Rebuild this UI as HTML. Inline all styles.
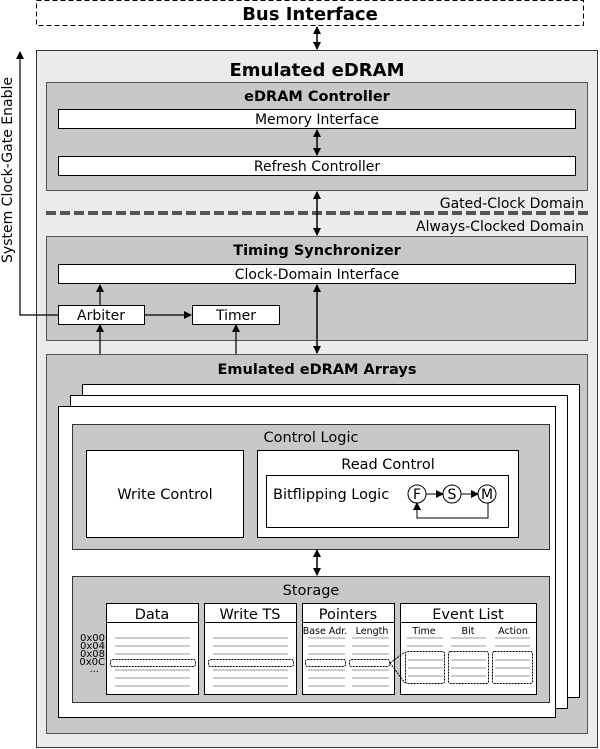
<!DOCTYPE html>
<html><head><meta charset="utf-8"><style>
html,body{margin:0;padding:0;background:#fff}
svg{display:block}
text{font-family:"DejaVu Sans","Liberation Sans",sans-serif;fill:#000}
</style></head><body>
<svg width="600" height="749" viewBox="0 0 600 749" xmlns="http://www.w3.org/2000/svg">
<defs>
<marker id="a" markerWidth="8" markerHeight="8" refX="7" refY="4" orient="auto-start-reverse" markerUnits="userSpaceOnUse"><path d="M0,0 L8,4 L0,8 z" fill="#000"/></marker>
</defs>
<rect x="36.5" y="0.5" width="547" height="25" fill="#fff" stroke="#000" stroke-dasharray="5,3"/>
<text x="310" y="20" font-size="18" font-weight="bold" text-anchor="middle">Bus Interface</text>
<line x1="317" y1="27" x2="317" y2="49" stroke="#000" stroke-width="1.5" marker-start="url(#a)" marker-end="url(#a)"/>
<rect x="36.5" y="50.5" width="561" height="697" fill="#ebebeb" stroke="#333"/>
<text x="317" y="76" font-size="18" font-weight="bold" text-anchor="middle">Emulated eDRAM</text>
<rect x="46.5" y="82.5" width="541" height="108" fill="#c8c8c8" stroke="#555"/>
<text x="317" y="101" font-size="14.5" font-weight="bold" text-anchor="middle">eDRAM Controller</text>
<rect x="58.5" y="109.5" width="517" height="19" fill="#fff" stroke="#000"/>
<text x="317" y="124" font-size="14" text-anchor="middle">Memory Interface</text>
<line x1="317" y1="130" x2="317" y2="155" stroke="#000" stroke-width="1.5" marker-start="url(#a)" marker-end="url(#a)"/>
<rect x="58.5" y="156.5" width="517" height="19" fill="#fff" stroke="#000"/>
<text x="317" y="171" font-size="14" text-anchor="middle">Refresh Controller</text>
<text x="584" y="208" font-size="14" text-anchor="end">Gated-Clock Domain</text>
<line x1="46" y1="213" x2="588" y2="213" stroke="#555" stroke-width="4" stroke-dasharray="10,4"/>
<text x="584" y="231" font-size="14" text-anchor="end">Always-Clocked Domain</text>
<line x1="317" y1="192" x2="317" y2="235" stroke="#000" stroke-width="1.5" marker-start="url(#a)" marker-end="url(#a)"/>
<rect x="46.5" y="236.5" width="541" height="104" fill="#c8c8c8" stroke="#555"/>
<text x="317" y="255" font-size="14.5" font-weight="bold" text-anchor="middle">Timing Synchronizer</text>
<rect x="58.5" y="264.5" width="517" height="19" fill="#fff" stroke="#000"/>
<text x="317" y="279" font-size="14" text-anchor="middle">Clock-Domain Interface</text>
<rect x="58.5" y="305.5" width="86" height="19" fill="#fff" stroke="#000"/>
<text x="101" y="320" font-size="14" text-anchor="middle">Arbiter</text>
<rect x="192.5" y="305.5" width="87" height="19" fill="#fff" stroke="#000"/>
<text x="236" y="320" font-size="14" text-anchor="middle">Timer</text>
<line x1="145" y1="315" x2="191" y2="315" stroke="#000" stroke-width="1.2" marker-end="url(#a)"/>
<line x1="100" y1="305" x2="100" y2="285" stroke="#000" stroke-width="1.2" marker-end="url(#a)"/>
<line x1="317" y1="285" x2="317" y2="353" stroke="#000" stroke-width="1.5" marker-start="url(#a)" marker-end="url(#a)"/>
<polyline points="58,315 20,315 20,52" fill="none" stroke="#000" stroke-width="1.2" marker-end="url(#a)"/>
<text transform="translate(12,170) rotate(-90)" font-size="14" text-anchor="middle">System Clock-Gate Enable</text>
<rect x="46.5" y="354.5" width="541" height="379" fill="#c8c8c8" stroke="#555"/>
<text x="317" y="374" font-size="14.5" font-weight="bold" text-anchor="middle">Emulated eDRAM Arrays</text>
<line x1="100" y1="354" x2="100" y2="325" stroke="#000" stroke-width="1.2" marker-end="url(#a)"/>
<line x1="236" y1="354" x2="236" y2="325" stroke="#000" stroke-width="1.2" marker-end="url(#a)"/>
<rect x="82.5" y="384.5" width="497" height="313" fill="#fff" stroke="#000"/>
<rect x="70.5" y="395.5" width="497" height="313" fill="#fff" stroke="#000"/>
<rect x="58.5" y="406.5" width="497" height="311" fill="#fff" stroke="#000"/>
<rect x="72.5" y="424.5" width="477" height="125" fill="#c8c8c8" stroke="#333"/>
<text x="311" y="442" font-size="14.5" text-anchor="middle">Control Logic</text>
<rect x="86.5" y="450.5" width="157" height="87" fill="#fff" stroke="#000"/>
<text x="165" y="499" font-size="14.5" text-anchor="middle">Write Control</text>
<rect x="257.5" y="450.5" width="261" height="87" fill="#fff" stroke="#000"/>
<text x="388" y="469" font-size="14.5" text-anchor="middle">Read Control</text>
<rect x="266.5" y="475.5" width="242" height="52" fill="#fff" stroke="#000"/>
<text x="273" y="499" font-size="14.5">Bitflipping Logic</text>
<g font-size="14" text-anchor="middle">
<circle cx="417" cy="494" r="9" fill="#fff" stroke="#000"/><text x="417" y="499">F</text>
<circle cx="452" cy="494" r="9" fill="#fff" stroke="#000"/><text x="452" y="499">S</text>
<circle cx="487" cy="494" r="9" fill="#fff" stroke="#000"/><text x="487" y="499">M</text>
</g>
<line x1="426" y1="494" x2="443" y2="494" stroke="#000" marker-end="url(#a)"/>
<line x1="461" y1="494" x2="478" y2="494" stroke="#000" marker-end="url(#a)"/>
<polyline points="488,503 488,518 417,518 417,503" fill="none" stroke="#000" marker-end="url(#a)"/>
<line x1="317" y1="550" x2="317" y2="575" stroke="#000" stroke-width="1.5" marker-start="url(#a)" marker-end="url(#a)"/>
<rect x="72.5" y="576.5" width="477" height="126" fill="#c8c8c8" stroke="#333"/>
<text x="311" y="595" font-size="14.5" text-anchor="middle">Storage</text>
<g stroke="#000" fill="#fff">
<rect x="106.5" y="603.5" width="92" height="91"/>
<rect x="204.5" y="603.5" width="92" height="91"/>
<rect x="302.5" y="603.5" width="92" height="91"/>
<rect x="400.5" y="603.5" width="136" height="91"/>
<line x1="106" y1="622.5" x2="199" y2="622.5"/>
<line x1="204" y1="622.5" x2="297" y2="622.5"/>
<line x1="302" y1="622.5" x2="395" y2="622.5"/>
<line x1="400" y1="622.5" x2="537" y2="622.5"/>
</g>
<g font-size="14.5" text-anchor="middle">
<text x="152" y="619">Data</text><text x="250" y="619">Write TS</text>
<text x="348" y="619">Pointers</text><text x="468" y="619">Event List</text>
</g>
<g font-size="9.5" text-anchor="middle">
<text x="325" y="634">Base Adr.</text><text x="372" y="634">Length</text>
<text x="424" y="634">Time</text><text x="468" y="634">Bit</text><text x="513" y="634">Action</text>
</g>
<g font-size="10" text-anchor="end">
<text x="105" y="641">0x00</text><text x="105" y="649">0x04</text><text x="105" y="657">0x08</text><text x="105" y="665">0x0C</text><text x="99" y="672">...</text>
</g>
<g stroke="#999" stroke-width="1">
<path d="M115,638H190M115,646H190M115,654H190M115,670H190M115,678H190M115,686H190"/>
<path d="M213,638H288M213,646H288M213,654H288M213,670H288M213,678H288M213,686H288"/>
<path d="M308,638H345M308,646H345M308,654H345M308,670H345M308,678H345M308,686H345"/>
<path d="M352,638H389M352,646H389M352,654H389M352,670H389M352,678H389M352,686H389"/>
<path d="M407,638H443M451,638H486M495,638H530M407,646H443M451,646H486M495,646H530"/>
</g>
<g stroke="#000" fill="none" stroke-dasharray="2,1" stroke-width="1">
<rect x="110.5" y="659.5" width="85" height="7" rx="2"/>
<rect x="208.5" y="659.5" width="85" height="7" rx="2"/>
<rect x="305.5" y="659.5" width="40" height="7" rx="2"/>
<rect x="349.5" y="659.5" width="40" height="7" rx="2"/>
<rect x="405.5" y="651.5" width="39" height="32" rx="2"/>
<rect x="448.5" y="651.5" width="40" height="32" rx="2"/>
<rect x="492.5" y="651.5" width="40" height="32" rx="2"/>
<path d="M390,663L405,652M390,663L405,683"/>
</g>
<g stroke="#999"><path d="M408,660H443M408,668H443M408,676H443M451,660H486M451,668H486M451,676H486M495,660H530M495,668H530M495,676H530"/></g>
</svg>
</body></html>
